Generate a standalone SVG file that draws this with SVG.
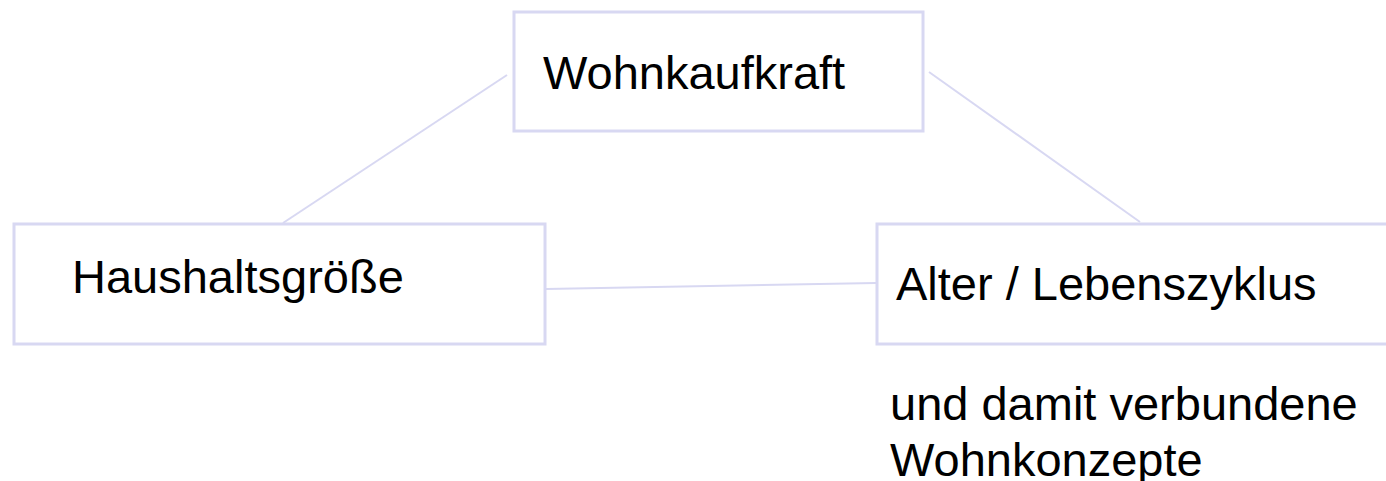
<svg xmlns="http://www.w3.org/2000/svg" width="1386" height="481" viewBox="0 0 1386 481">
<style>
.box{fill:#ffffff;stroke:#d8d8f2;stroke-width:3}
.con{stroke:#d8d8f2;stroke-width:2;fill:none}
.t{font-family:"Liberation Sans",Arial,sans-serif;font-size:47px;fill:#000000}
</style>
<rect width="1386" height="481" fill="#ffffff"/>
<g id="connectors">
<line class="con" x1="507" y1="75" x2="283" y2="223"/>
<line class="con" x1="929" y1="72" x2="1140" y2="222"/>
<line class="con" x1="546" y1="289" x2="876" y2="283"/>
</g>
<g id="node-wohnkaufkraft">
<rect class="box" x="514" y="12" width="409" height="119"/>
<text class="t" x="543" y="89">Wohnkaufkraft</text>
</g>
<g id="node-haushaltsgroesse">
<rect class="box" x="14" y="224" width="531" height="120"/>
<text class="t" x="72" y="293">Haushaltsgröße</text>
</g>
<g id="node-alter">
<rect class="box" x="877" y="224" width="520" height="120"/>
<text class="t" x="896" y="300">Alter / Lebenszyklus</text>
</g>
<g id="note">
<text class="t" x="890" y="420">und damit verbundene</text>
<text class="t" x="890" y="476">Wohnkonzepte</text>
</g>
</svg>
